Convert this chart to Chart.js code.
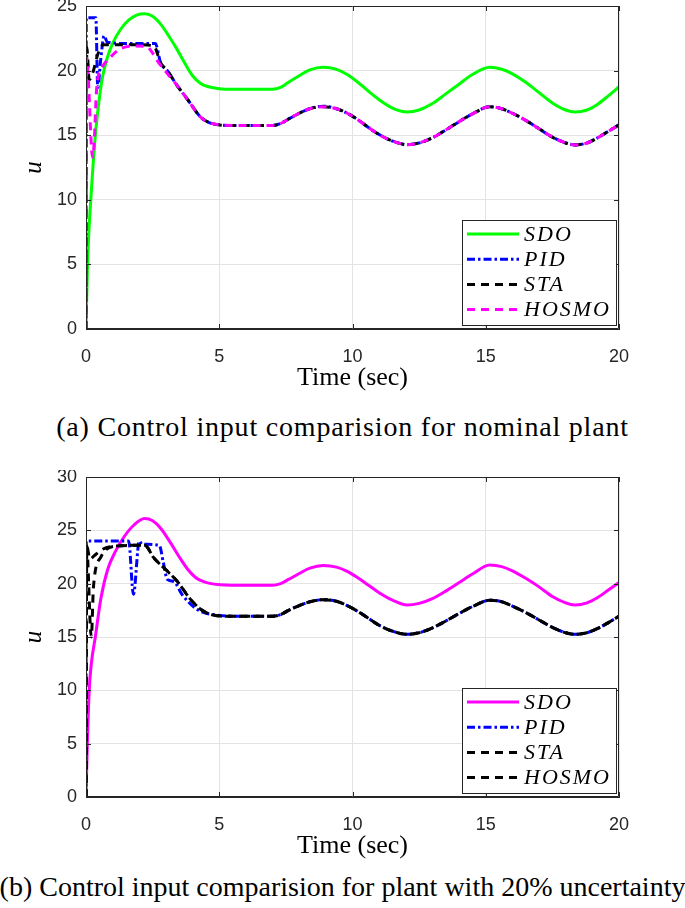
<!DOCTYPE html>
<html><head><meta charset="utf-8">
<script src="https://cdn.jsdelivr.net/npm/chart.js@4.4.1/dist/chart.umd.min.js"></script>
<style>
html,body{margin:0;padding:0;background:#fff;width:685px;height:908px;overflow:hidden;}
#wa{position:absolute;left:0;top:0;width:685px;height:400px;}
#wb{position:absolute;left:0;top:470px;width:685px;height:398px;}
.cap{position:absolute;left:-20px;width:725px;text-align:center;font-family:"Liberation Serif",serif;font-size:28px;line-height:30px;color:#000;white-space:nowrap;}
</style></head><body>
<div id="wa"><canvas id="ca" width="685" height="400"></canvas></div>
<div id="wb"><canvas id="cb" width="685" height="398"></canvas></div>
<div class="cap" style="top:412px;letter-spacing:0.8px">(a) Control input comparision for nominal plant</div>
<div class="cap" style="top:872px;letter-spacing:0px">(b) Control input comparision for plant with 20% uncertainty</div>
<script>
// ---------- tick labels / texts ----------
const xTicks = [0, 5, 10, 15, 20];
const yTicksA = [0, 5, 10, 15, 20, 25];
const yTicksB = [0, 5, 10, 15, 20, 25, 30];
const seriesNames = ['SDO', 'PID', 'STA', 'HOSMO'];
const xTitle = 'Time (sec)';
const yTitle = 'u';

// ---------- (a) nominal plant ----------
const tSdoA = [0,0.05,0.1,0.18,0.33,0.45,0.62,0.8,1.0,1.3,1.6,1.9,2.2,2.5,2.8,3.1,3.4,3.7,4.0,4.3,4.6,5.0,5.5,6.0,6.5,7.0,7.3,7.6,8.0,8.4,8.9,9.4,9.8,10.2,10.6,11.0,11.5,12.05,12.5,13.0,13.5,14.0,14.5,15.15,15.6,16.0,16.5,17.0,17.5,18.0,18.35,18.8,19.2,19.6,20.0];
const uSdoA = [0,4.5,7.2,10,14.5,17,19.5,21.0,22.1,23.2,23.9,24.3,24.4,24.2,23.6,22.7,21.7,20.6,19.6,19.0,18.75,18.6,18.55,18.55,18.55,18.55,18.7,19.1,19.6,20.05,20.25,20.1,19.7,19.1,18.4,17.75,17.1,16.8,16.95,17.45,18.2,18.95,19.7,20.25,20.1,19.75,19.1,18.3,17.5,16.95,16.8,16.95,17.4,18.05,18.75];

const tPidA = [0,0.01,0.37,0.44,0.55,0.68,0.8,1.5,2.6,2.8,3.05,3.4,3.8,4.3,4.6,5.0,5.5,6.0,6.5,7.0,7.3,7.6,8.0,8.4,8.9,9.4,9.8,10.2,10.6,11.0,11.5,12.05,12.5,13.0,13.5,14.0,14.5,15.15,15.6,16.0,16.5,17.0,17.5,18.0,18.35,18.8,19.2,19.6,20.0];
const uPidA = [0,24.1,24.1,18.7,20.8,22.7,22.2,22.1,22.1,20.6,20.0,18.9,17.8,16.4,16.0,15.8,15.75,15.75,15.75,15.75,15.9,16.25,16.7,17.05,17.25,17.05,16.7,16.2,15.6,15.05,14.55,14.27,14.4,14.8,15.4,16.05,16.65,17.2,17.05,16.7,16.15,15.5,14.85,14.4,14.25,14.4,14.8,15.3,15.8];

const tStaA = [0,0.03,0.12,0.25,0.45,0.65,1.0,2.0,2.55,2.8,3.05,3.4,3.8,4.3,4.6,5.0,5.5,6.0,6.5,7.0,7.3,7.6,8.0,8.4,8.9,9.4,9.8,10.2,10.6,11.0,11.5,12.05,12.5,13.0,13.5,14.0,14.5,15.15,15.6,16.0,16.5,17.0,17.5,18.0,18.35,18.8,19.2,19.6,20.0];
const uStaA = [0,21.8,19.3,19.8,21.3,22.0,22.0,22.0,21.9,20.6,20.0,18.9,17.8,16.4,16.0,15.8,15.75,15.75,15.75,15.75,15.9,16.25,16.7,17.05,17.2,17.05,16.7,16.2,15.6,15.05,14.55,14.27,14.4,14.8,15.4,16.05,16.65,17.2,17.05,16.7,16.15,15.5,14.85,14.4,14.25,14.4,14.8,15.3,15.8];

const tHosA = [0,0.02,0.25,0.3,0.4,0.6,0.9,1.3,1.8,2.3,2.45,2.7,3.0,3.4,3.8,4.3,4.6,5.0,5.5,6.0,6.5,7.0,7.3,7.6,8.0,8.4,8.9,9.4,9.8,10.2,10.6,11.0,11.5,12.05,12.5,13.0,13.5,14.0,14.5,15.15,15.6,16.0,16.5,17.0,17.5,18.0,18.35,18.8,19.2,19.6,20.0];
const uHosA = [0,21.0,13.3,14.2,18.6,20.2,21.0,21.7,21.9,21.85,21.5,20.7,19.9,18.9,17.8,16.4,16.0,15.8,15.75,15.75,15.75,15.75,15.9,16.25,16.7,17.05,17.2,17.05,16.7,16.2,15.6,15.05,14.55,14.27,14.4,14.8,15.4,16.05,16.65,17.2,17.05,16.7,16.15,15.5,14.85,14.4,14.25,14.4,14.8,15.3,15.8];

// ---------- (b) 20% uncertainty ----------
const tSdoB = [0,0.05,0.12,0.2,0.35,0.55,0.81,1.1,1.43,1.8,2.2,2.5,2.8,3.18,3.5,3.8,4.1,4.3,4.6,5.05,6.0,7.0,7.3,7.6,8.0,8.4,8.9,9.4,9.8,10.2,10.6,11.0,11.5,12.05,12.5,13.0,13.5,14.0,14.5,15.15,15.6,16.0,16.5,17.0,17.5,18.0,18.35,18.8,19.2,19.6,20.0];
const uSdoB = [0,5,10,12.5,15,18.5,21.3,23.0,24.4,25.5,26.1,25.9,25.2,23.8,22.5,21.4,20.6,20.3,20.05,19.9,19.85,19.85,20.0,20.4,20.95,21.45,21.7,21.55,21.15,20.55,19.85,19.15,18.45,18.0,18.15,18.6,19.3,20.1,20.9,21.75,21.6,21.2,20.5,19.7,18.8,18.2,18.0,18.2,18.7,19.4,20.1];

const tPidB = [0,0.01,1.6,1.78,2.0,2.1,2.75,2.9,3.05,3.3,3.6,4.05,4.4,4.8,5.5,7.0,7.3,7.6,8.0,8.4,8.9,9.4,9.8,10.2,10.6,11.0,11.5,12.05,12.5,13.0,13.5,14.0,14.5,15.15,15.6,16.0,16.5,17.0,17.5,18.0,18.35,18.8,19.2,19.6,20.0];
const uPidB = [0,24,24,19.0,24.0,23.7,23.6,22.0,20.4,20.2,19.0,17.8,17.3,17.1,16.95,16.95,17.1,17.5,17.95,18.3,18.5,18.35,17.95,17.4,16.75,16.1,15.55,15.25,15.4,15.85,16.5,17.2,17.85,18.45,18.3,17.9,17.3,16.6,15.9,15.4,15.25,15.4,15.8,16.35,16.95];

const tStaB = [0,0.03,0.15,0.3,0.6,1.0,2.2,2.55,3.0,3.43,3.9,4.3,4.7,5.2,7.0,7.3,7.6,8.0,8.4,8.9,9.4,9.8,10.2,10.6,11.0,11.5,12.05,12.5,13.0,13.5,14.0,14.5,15.15,15.6,16.0,16.5,17.0,17.5,18.0,18.35,18.8,19.2,19.6,20.0];
const uStaB = [0,23.5,22.3,22.6,23.2,23.5,23.6,22.4,21.3,20.2,18.6,17.6,17.1,16.95,16.95,17.1,17.5,17.95,18.3,18.5,18.35,17.95,17.4,16.75,16.1,15.55,15.25,15.4,15.85,16.5,17.2,17.85,18.45,18.3,17.9,17.3,16.6,15.9,15.4,15.25,15.4,15.8,16.35,16.95];

const tHosB = [0,0.02,0.2,0.28,0.56,1.05,2.2,2.55,3.0,3.43,3.9,4.3,4.7,5.2,7.0,7.3,7.6,8.0,8.4,8.9,9.4,9.8,10.2,10.6,11.0,11.5,12.05,12.5,13.0,13.5,14.0,14.5,15.15,15.6,16.0,16.5,17.0,17.5,18.0,18.35,18.8,19.2,19.6,20.0];
const uHosB = [0,23.6,15,19.7,22.5,23.5,23.6,22.4,21.3,20.2,18.6,17.6,17.1,16.95,16.95,17.1,17.5,17.95,18.3,18.5,18.35,17.95,17.4,16.75,16.1,15.55,15.25,15.4,15.85,16.5,17.2,17.85,18.45,18.3,17.9,17.3,16.6,15.9,15.4,15.25,15.4,15.8,16.35,16.95];

// ---------- helpers ----------
const pts = (t, u) => t.map((x, i) => ({x: x, y: u[i]}));
const DASH_PID = [8, 3, 2.5, 3];
const DASH_D = [8, 6];
const AX = '#262626';

const frame = {
  id: 'frame',
  afterDraw(chart) {
    const {ctx, chartArea: a, scales} = chart;
    ctx.save();
    ctx.strokeStyle = AX; ctx.lineWidth = 1;
    ctx.beginPath();
    ctx.moveTo(a.left + 0.5, a.top + 0.5); ctx.lineTo(a.right - 0.5, a.top + 0.5);
    ctx.lineTo(a.right - 0.5, a.bottom - 0.5); ctx.lineTo(a.left + 0.5, a.bottom - 0.5);
    ctx.closePath();
    ctx.stroke();
    const L = 5;
    ctx.beginPath();
    scales.x.ticks.forEach(t => {
      const px = Math.round(scales.x.getPixelForValue(t.value)) + 0.5;
      ctx.moveTo(px, a.bottom); ctx.lineTo(px, a.bottom - L);
      ctx.moveTo(px, a.top); ctx.lineTo(px, a.top + L);
    });
    scales.y.ticks.forEach(t => {
      const py = Math.round(scales.y.getPixelForValue(t.value)) + 0.5;
      ctx.moveTo(a.left, py); ctx.lineTo(a.left + L, py);
      ctx.moveTo(a.right, py); ctx.lineTo(a.right - L, py);
    });
    ctx.stroke();
    // legend
    const w = 155, h = 106;
    const x0 = a.right - 2 - w, y0 = a.bottom - 3 - h;
    ctx.fillStyle = '#fff';
    ctx.fillRect(x0, y0, w, h);
    ctx.strokeStyle = AX;
    ctx.strokeRect(x0 + 0.5, y0 + 0.5, w - 1, h - 1);
    const ds = chart.data.datasets;
    ctx.font = 'italic 22px "Liberation Serif", serif';
    ctx.textBaseline = 'middle';
    ctx.textAlign = 'left';
    ds.forEach((d, i) => {
      const yy = y0 + 14 + i * 25.2;
      ctx.beginPath();
      ctx.setLineDash(d.borderDash || []);
      ctx.lineWidth = 3;
      ctx.strokeStyle = d.borderColor;
      ctx.moveTo(x0 + 5, yy); ctx.lineTo(x0 + 57, yy);
      ctx.stroke();
      ctx.setLineDash([]);
      ctx.fillStyle = '#000';
      try { ctx.letterSpacing = '2px'; } catch (e) {}
      ctx.fillText(d.label, x0 + 62, yy + 1);
    });
    ctx.restore();
  }
};

function makeChart(id, yMax, yTicks, sets, padTop) {
  return new Chart(document.getElementById(id), {
    type: 'line',
    data: { datasets: sets },
    options: {
      responsive: false, animation: false, devicePixelRatio: 1,
      layout: { padding: { left: 0, right: 66, top: padTop, bottom: 0 } },
      plugins: { legend: { display: false }, tooltip: { enabled: false } },
      elements: { point: { radius: 0 }, line: { borderWidth: 3, cubicInterpolationMode: 'monotone', fill: false } },
      scales: {
        x: {
          type: 'linear', min: 0, max: 20,
          afterBuildTicks: s => { s.ticks = xTicks.map(v => ({value: v})); },
          afterFit: s => { s.height = 71; s.paddingLeft = 0; s.paddingRight = 0; },
          grid: { color: '#e3e3e3', drawTicks: false },
          border: { color: AX },
          ticks: { padding: 17, color: AX, font: { family: '"Liberation Sans", Arial, sans-serif', size: 18 }, maxRotation: 0 },
          title: { display: true, text: xTitle, color: '#000', font: { family: '"Liberation Serif", serif', size: 26 }, padding: { top: 0, bottom: 6 } }
        },
        y: {
          type: 'linear', min: 0, max: yMax,
          afterBuildTicks: s => { s.ticks = yTicks.map(v => ({value: v})); },
          afterFit: s => { s.width = 86; s.paddingTop = 0; s.paddingBottom = 0; },
          grid: { color: '#e3e3e3', drawTicks: false },
          border: { color: AX },
          ticks: { padding: 9, color: AX, font: { family: '"Liberation Sans", Arial, sans-serif', size: 18 } },
          title: { display: true, text: yTitle, color: '#000', font: { family: '"Liberation Serif", serif', size: 25, style: 'italic' }, padding: { top: 19, bottom: 0 } }
        }
      }
    },
    plugins: [frame]
  });
}

makeChart('ca', 25, yTicksA, [
  { label: seriesNames[0], data: pts(tSdoA, uSdoA), borderColor: '#00ff00', order: 3 },
  { label: seriesNames[1], data: pts(tPidA, uPidA), borderColor: '#0000ff', borderDash: DASH_PID, order: 2 },
  { label: seriesNames[2], data: pts(tStaA, uStaA), borderColor: '#000000', borderDash: DASH_D, order: 1 },
  { label: seriesNames[3], data: pts(tHosA, uHosA), borderColor: '#ff00ff', borderDash: DASH_D, order: 0 }
], 6);

makeChart('cb', 30, yTicksB, [
  { label: seriesNames[0], data: pts(tSdoB, uSdoB), borderColor: '#ff00ff', order: 3 },
  { label: seriesNames[1], data: pts(tPidB, uPidB), borderColor: '#0000ff', borderDash: DASH_PID, order: 2 },
  { label: seriesNames[2], data: pts(tStaB, uStaB), borderColor: '#000000', borderDash: DASH_D, order: 1 },
  { label: seriesNames[3], data: pts(tHosB, uHosB), borderColor: '#000000', borderDash: DASH_D, order: 0 }
], 7);
</script>
</body></html>
